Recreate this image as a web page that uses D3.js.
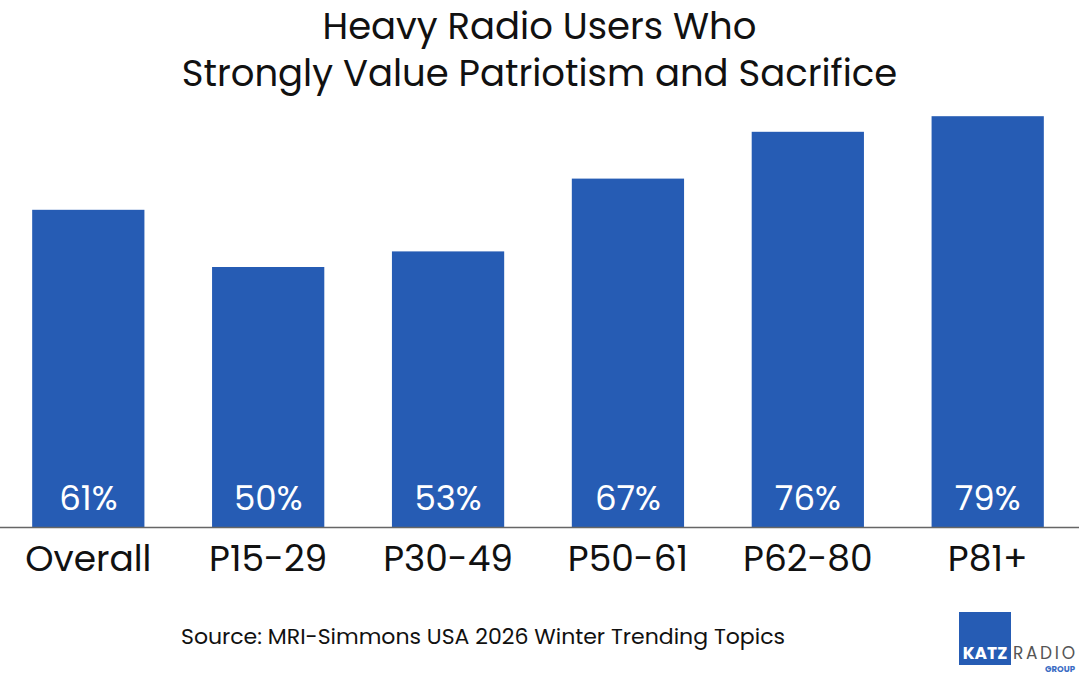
<!DOCTYPE html>
<html>
<head>
<meta charset="utf-8">
<script src="https://cdn.jsdelivr.net/npm/d3@7"></script>
<style>
  body { margin: 0; background: #fff; }
  text { font-family: "Poppins", "Lato", "Open Sans", sans-serif; }
</style>
</head>
<body>
<div id="chart"></div>
<script>
// Chart data
const categories = ["Overall", "P15-29", "P30-49", "P50-61", "P62-80", "P81+"];
const values = [61, 50, 53, 67, 76, 79];
const titleLines = ["Heavy Radio Users Who", "Strongly Value Patriotism and Sacrifice"];
const sourceText = "Source: MRI-Simmons USA 2026 Winter Trending Topics";

const width = 1079, height = 677;
const baseline = 527;

let svg = d3.select("#chart")
    .append("svg")
    .attr("width", width)
    .attr("height", height);

// scales
var x = d3.scaleBand()
    .domain(categories)
    .range([-2, 1078])
    .paddingInner(0.376)
    .paddingOuter(0.19);

var y = d3.scaleLinear()
    .domain([0, 100])
    .range([baseline, 7]);

// Title
svg.append("g")
    .selectAll("text")
    .data(titleLines)
    .enter()
    .append("text")
    .attr("x", width / 2)
    .attr("y", (d, i) => 39 + i * 47)
    .attr("text-anchor", "middle")
    .style("font-size", "37px")
    .style("fill", "#111")
    .text((d) => d);

// Bars
let data = categories.map((c, i) => ({cat: c, value: values[i]}));

svg.append("g")
    .selectAll("rect")
    .data(data)
    .enter()
    .append("rect")
    .attr("x", (d) => x(d.cat))
    .attr("y", (d) => y(d.value))
    .attr("width", x.bandwidth())
    .attr("height", (d) => baseline - y(d.value))
    .style("fill", "#265CB4");

// Value labels inside bars
svg.append("g")
    .selectAll("text")
    .data(data)
    .enter()
    .append("text")
    .attr("x", (d) => x(d.cat) + x.bandwidth() / 2)
    .attr("y", baseline - 17)
    .attr("text-anchor", "middle")
    .style("font-size", "34px")
    .style("fill", "#fff")
    .text((d) => d.value + "%");

// X axis
svg.append("g")
    .attr("transform", "translate(0," + baseline + ")")
    .call(d3.axisBottom(x).tickSize(0))
    .call((g) => g.select(".domain")
        .attr("d", "M0,0.5H" + width)
        .attr("stroke", "#666")
        .attr("stroke-width", 1.5))
    .call((g) => g.selectAll(".tick text")
        .attr("y", 44)
        .attr("dy", 0)
        .style("font-family", "Poppins, Lato, 'Open Sans', sans-serif")
        .style("font-size", "36px")
        .style("fill", "#111"));

// Source
svg.append("text")
    .attr("x", 483)
    .attr("y", 644)
    .attr("text-anchor", "middle")
    .style("font-size", "22px")
    .style("fill", "#111")
    .text(sourceText);

// Logo
let logo = svg.append("g");
logo.append("rect")
    .attr("x", 959)
    .attr("y", 612)
    .attr("width", 52)
    .attr("height", 53)
    .style("fill", "#265CB4");
logo.append("text")
    .attr("x", 985)
    .attr("y", 659)
    .attr("text-anchor", "middle")
    .style("font-size", "17px")
    .style("font-weight", "bold")
    .style("fill", "#fff")
    .text("KATZ");
logo.append("text")
    .attr("x", 1013)
    .attr("y", 659)
    .attr("textLength", 62)
    .style("font-size", "17px")
    .style("fill", "#555")
    .text("RADIO");
logo.append("text")
    .attr("x", 1075)
    .attr("y", 672)
    .attr("text-anchor", "end")
    .style("font-size", "8.5px")
    .style("font-weight", "bold")
    .style("fill", "#3b6cc4")
    .text("GROUP");
</script>
</body>
</html>
